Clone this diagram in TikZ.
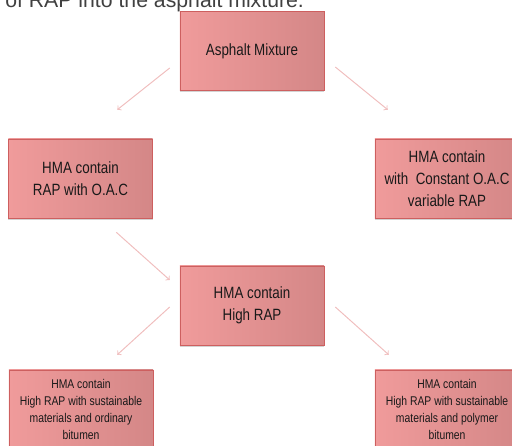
\documentclass[tikz,border=0pt]{standalone}
\usepackage{fontspec}
\newfontfamily\boxfont[FakeStretch=0.82]{Liberation Sans}
\newfontfamily\headfont{Liberation Sans}
\usetikzlibrary{shadows}
\usetikzlibrary{arrows,shapes}
\usetikzlibrary{shadings}
\definecolor{boxleft}{RGB}{240,155,155}
\definecolor{boxright}{RGB}{212,135,135}
\definecolor{boxline}{RGB}{205,95,95}
\definecolor{linkpink}{RGB}{240,190,190}
\tikzstyle{mixbox}=[rectangle,draw=boxline,left color=boxleft,right color=boxright,minimum width=3.6cm,minimum height=1.975cm,align=center,inner sep=2pt,text=black!90,drop shadow={shadow xshift=0pt,shadow yshift=-1.2pt,opacity=0.35},font=\boxfont\fontsize{11.6}{15.5}\selectfont]
\tikzstyle{smallmixbox}=[mixbox,font=\boxfont\fontsize{9}{12.3}\selectfont]
\tikzstyle{link}=[draw,linkpink,line width=0.7pt,->]

\begin{document}
\begin{tikzpicture}[x=0.025cm,y=-0.025cm]
    \useasboundingbox (0,0) rectangle (512,446);
    \clip (0,0) rectangle (512,446);
    % Slide text cut at the top
    \node[anchor=base west, inner sep=0pt, text=black!75, font=\headfont\fontsize{15.1}{18}\selectfont] (intro) at (5,8) {of RAP into the asphalt mixture.};

    % The boxes
    \node[mixbox] (am) at (252,51) {Asphalt Mixture};
    \node[mixbox] (l) at (80.5,178.5) {HMA contain\\RAP with O.A.C};
    \node[mixbox] (r) at (447,178.5) {HMA contain\\with~~Constant O.A.C\\variable RAP};
    \node[mixbox] (hr) at (252,305.5) {HMA contain\\High RAP};
    \node[smallmixbox] (bl) at (81,409.5) {HMA contain\\High RAP with sustainable\\materials and ordinary\\bitumen};
    \node[smallmixbox] (br) at (447,409.5) {HMA contain\\High RAP with sustainable\\materials and polymer\\bitumen};

    % Arrows between the boxes
    \foreach \source/\ss/\dest/\sd in {am.west/{-10,17}/l.north east/{-35.5,-29}, am.east/{11,16}/r.north west/{13,-29}, l.south east/{-36.5,14}/hr.west/{-10,-25.5}, hr.west/{-10,1.5}/bl.north east/{-36,-15}, hr.east/{11,1.5}/br.north west/{14,-15}}
        \path[link] ([shift={(\ss)}]\source) -- ([shift={(\sd)}]\dest);

\end{tikzpicture}
\end{document}
